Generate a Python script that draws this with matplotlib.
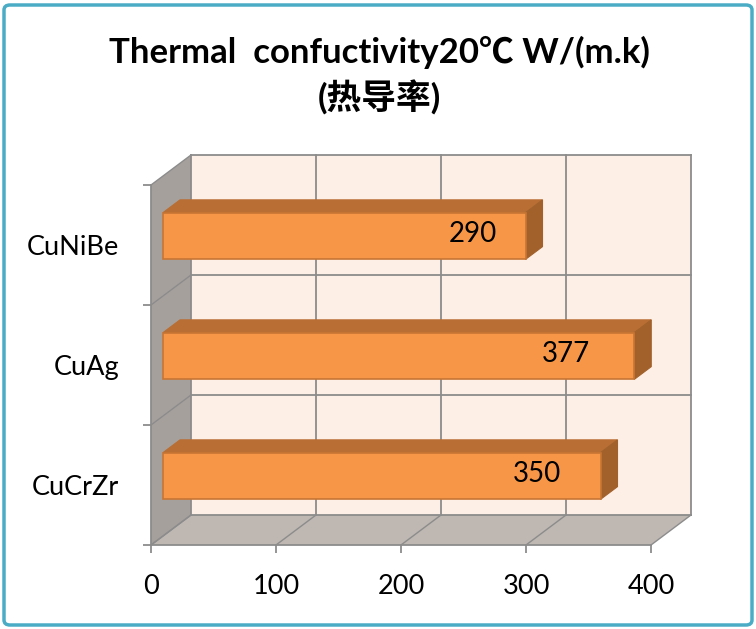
import matplotlib
matplotlib.use("Agg")
import matplotlib.pyplot as plt
from matplotlib.patches import Rectangle, Polygon, FancyBboxPatch

# data
categories = ["CuCrZr", "CuAg", "CuNiBe"]
values = [350, 377, 290]
xticks = [0, 100, 200, 300, 400]
title1 = "Thermal  confuctivity20\u2103 W/(m.k)"
title2 = "(\u70ed\u5bfc\u7387)"

fonts = ["Lato", "Noto Sans CJK SC", "DejaVu Sans"]
plt.rcParams["font.family"] = fonts

# colours
c_front = "#F79646"
c_top = "#B96E33"
c_side = "#A2612B"
c_edge = "#C87533"
c_wall = "#FDEEE6"
c_floor = "#BEB7B2"
c_left = "#A6A09C"
c_grid = "#8C8C8C"

# 3d depth in data units (value units, category units)
DX, DY = 32, 0.25
f_front, f_back = 0.3, 0.725
bar_h = 0.39
label_pos = 0.855  # excel puts the 3d labels a bit inside the end

fig = plt.figure(figsize=(7.56, 6.29), dpi=100)
ax = fig.add_axes([151 / 756, (629 - 545) / 629, 500 / 756, 360 / 629])
ax.set_xlim(0, 400)
ax.set_ylim(0, 3)
ax.patch.set_visible(False)
for s in ["top", "right"]:
    ax.spines[s].set_visible(False)
for s in ["left", "bottom"]:
    ax.spines[s].set_color(c_grid)
    ax.spines[s].set_linewidth(1.3)

n = len(categories)
xmax = xticks[-1]

# back wall
ax.add_patch(Rectangle((DX, DY), xmax, n, facecolor=c_wall, edgecolor="none",
                       zorder=0.5, clip_on=False))
# left wall
ax.add_patch(Polygon([(0, 0), (0, n), (DX, n + DY), (DX, DY)], closed=True,
                     facecolor=c_left, edgecolor="none", zorder=0.6, clip_on=False))
# floor
ax.add_patch(Polygon([(0, 0), (xmax, 0), (xmax + DX, DY), (DX, DY)], closed=True,
                     facecolor=c_floor, edgecolor="none", zorder=0.6, clip_on=False))

# gridlines on back wall + diagonals
for xv in xticks:
    ax.plot([xv + DX, xv + DX], [DY, n + DY], color=c_grid, lw=1.3, zorder=1, clip_on=False)
    ax.plot([xv, xv + DX], [0, DY], color=c_grid, lw=1.0, zorder=1, clip_on=False)
for yv in range(n + 1):
    ax.plot([DX, xmax + DX], [yv + DY, yv + DY], color=c_grid, lw=1.3, zorder=1, clip_on=False)
    ax.plot([0, DX], [yv, yv + DY], color=c_grid, lw=1.0, zorder=1, clip_on=False)

# bars
ox, oy = DX * f_front, DY * f_front
dx, dy = DX * (f_back - f_front), DY * (f_back - f_front)
for i, v in enumerate(values):
    y0 = i + 0.5 - bar_h / 2 + oy
    y1 = y0 + bar_h
    x0 = ox
    x1 = v + ox
    ax.add_patch(Polygon([(x0, y1), (x1, y1), (x1 + dx, y1 + dy), (x0 + dx, y1 + dy)],
                         closed=True, facecolor=c_top, edgecolor=c_top, lw=0.8,
                         zorder=3, clip_on=False))
    ax.add_patch(Polygon([(x1, y0), (x1 + dx, y0 + dy), (x1 + dx, y1 + dy), (x1, y1)],
                         closed=True, facecolor=c_side, edgecolor=c_side, lw=0.8,
                         zorder=3, clip_on=False))
    ax.add_patch(Rectangle((x0, y0), v, bar_h, facecolor=c_front, edgecolor=c_edge,
                           lw=1.2, zorder=4, clip_on=False))
    ax.text(v * label_pos + ox, (y0 + y1) / 2 + 0.02, str(v), ha="center", va="center",
            fontsize=20, color="black", zorder=5)

# ticks
ax.set_xticks(xticks)
ax.set_xticklabels([str(t) for t in xticks])
ax.tick_params(axis="x", direction="out", length=6, width=1.3, color=c_grid,
               labelsize=19.5, pad=15)
ax.set_yticks(range(n + 1))
ax.set_yticklabels([])
ax.set_yticks([i + 0.5 for i in range(n)], minor=True)
ax.set_yticklabels(categories, minor=True)
ax.tick_params(axis="y", which="major", direction="out", length=6, width=1.3, color=c_grid)
ax.tick_params(axis="y", which="minor", length=0, labelsize=19.5, pad=23)

# title
fig.text(0.502, 1 - 52 / 629, title1, ha="center", va="center", fontsize=25,
         fontweight="bold")
fig.text(0.502, 1 - 98 / 629, title2, ha="center", va="center", fontsize=25,
         fontweight="bold")

# outer border
border = FancyBboxPatch((4 / 756, 4 / 629), 748 / 756, 620 / 629,
                        boxstyle="round,pad=0,rounding_size=0.008",
                        transform=fig.transFigure, facecolor="none",
                        edgecolor="#4BACC6", lw=2.5)
fig.add_artist(border)

fig.savefig("out.png", dpi=100)
